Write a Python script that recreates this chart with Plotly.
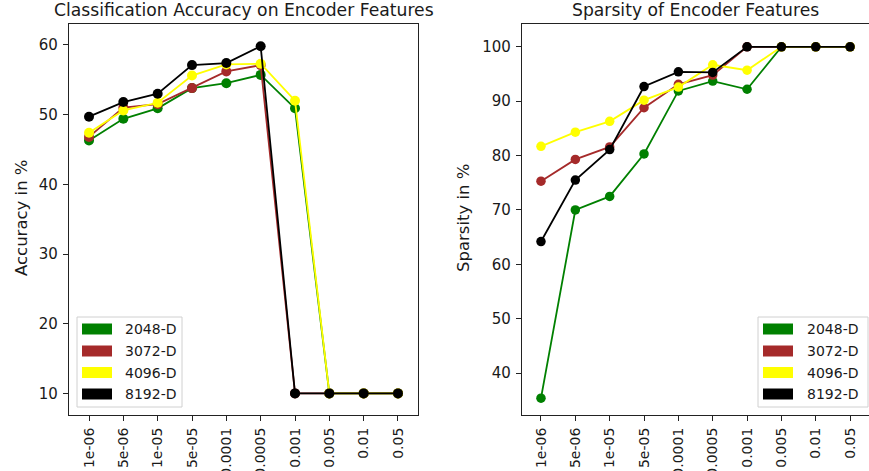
import plotly.graph_objects as go

W, H = 869, 471

# ---------------- data ----------------
x_labels = ["1e-06", "5e-06", "1e-05", "5e-05", "0.0001", "0.0005",
            "0.001", "0.005", "0.01", "0.05"]
series_names = ["2048-D", "3072-D", "4096-D", "8192-D"]
series_colors = ["#008000", "#a52a2a", "#ffff00", "#000000"]

acc_2048 = [46.3, 49.4, 50.9, 53.8, 54.5, 55.7, 50.9, 10, 10, 10]
acc_3072 = [46.8, 51.0, 51.5, 53.8, 56.2, 57.1, 10, 10, 10, 10]
acc_4096 = [47.4, 50.6, 51.7, 55.6, 57.2, 57.3, 52.0, 10, 10, 10]
acc_8192 = [49.7, 51.8, 53.0, 57.1, 57.4, 59.8, 10, 10, 10, 10]

sp_2048 = [35.4, 70.0, 72.5, 80.3, 91.9, 93.7, 92.2, 100, 100, 100]
sp_3072 = [75.3, 79.3, 81.6, 88.8, 93.1, 94.8, 100, 100, 100, 100]
sp_4096 = [81.7, 84.3, 86.3, 90.2, 92.6, 96.7, 95.7, 100, 100, 100]
sp_8192 = [64.2, 75.5, 81.1, 92.7, 95.4, 95.3, 100, 100, 100, 100]

acc_ticks = [10, 20, 30, 40, 50, 60]
sp_ticks = [40, 50, 60, 70, 80, 90, 100]

titles = ["Classification Accuracy on Encoder Features", "Sparsity of Encoder Features"]
y_titles = ["Accuracy in %", "Sparsity in %"]

acc_series = [acc_2048, acc_3072, acc_4096, acc_8192]
sp_series = [sp_2048, sp_3072, sp_4096, sp_8192]

FONT = "DejaVu Sans"
TXT = "#1a1a1a"


def px(x):
    return x / W


def py(y):
    return 1 - y / H


fig = go.Figure()

for vals, name, col in zip(acc_series, series_names, series_colors):
    fig.add_trace(go.Scatter(x=x_labels, y=vals, mode="lines+markers", name=name,
                             line=dict(color=col, width=1.8),
                             marker=dict(color=col, size=10),
                             xaxis="x", yaxis="y", showlegend=False))
for vals, name, col in zip(sp_series, series_names, series_colors):
    fig.add_trace(go.Scatter(x=x_labels, y=vals, mode="lines+markers", name=name,
                             line=dict(color=col, width=1.8),
                             marker=dict(color=col, size=9.5),
                             xaxis="x2", yaxis="y2", showlegend=False))

ax_common = dict(showline=True, linecolor="#222", linewidth=1.2, mirror=True,
                 ticks="outside", ticklen=5, tickcolor="#222", showgrid=False,
                 zeroline=False, automargin=False)
xfont = dict(family=FONT, size=14, color=TXT)
yfont = dict(family=FONT, size=15, color=TXT)

fig.update_layout(
    width=W, height=H,
    margin=dict(l=0, r=0, t=0, b=0, autoexpand=False),
    paper_bgcolor="white", plot_bgcolor="white",
    xaxis=dict(domain=[px(69), px(418)], type="category", range=[-0.583, 9.583],
               tickangle=-90, anchor="y", ticklabelstandoff=1, tickfont=xfont, **ax_common),
    yaxis=dict(domain=[py(415), py(24)], range=[6.9, 63.0], tickvals=acc_ticks,
               anchor="x", ticklabelstandoff=2, tickfont=yfont, **ax_common),
    xaxis2=dict(domain=[px(522), 1.0], type="category", range=[-0.553, 9.55],
                tickangle=-90, anchor="y2", ticklabelstandoff=1, tickfont=xfont, **ax_common),
    yaxis2=dict(domain=[py(415), py(24)], range=[32.3, 104.2], tickvals=sp_ticks,
                anchor="x2", ticklabelstandoff=2, tickfont=yfont, **ax_common),
)

shapes = []
annotations = []

# titles
for t, cx in zip(titles, [244, 695]):
    annotations.append(dict(text=t, x=px(cx), y=py(10.5), xref="paper", yref="paper",
                            showarrow=False, xanchor="center", yanchor="middle",
                            font=dict(family=FONT, size=17.2, color=TXT)))
# y-axis titles
for t, cx in zip(y_titles, [21, 463]):
    annotations.append(dict(text=t, x=px(cx), y=py(218), xref="paper", yref="paper",
                            showarrow=False, textangle=-90, xanchor="center",
                            yanchor="middle", font=dict(family=FONT, size=16.5, color=TXT)))

# legends (drawn as patches + labels, matplotlib style)
rows = [329, 351, 372.5, 394]
for (bx0, bx1, p0, p1, tx) in [(77, 182, 82, 112, 123), (758, 868, 763, 793, 805)]:
    shapes.append(dict(type="rect", xref="paper", yref="paper",
                       x0=px(bx0), x1=px(bx1), y0=py(407), y1=py(317),
                       line=dict(color="#d0d0d0", width=1), fillcolor="rgba(255,255,255,0.85)",
                       layer="above"))
    for ry, name, col in zip(rows, series_names, series_colors):
        shapes.append(dict(type="rect", xref="paper", yref="paper",
                           x0=px(p0), x1=px(p1), y0=py(ry + 5.5), y1=py(ry - 5.5),
                           line=dict(width=0), fillcolor=col, layer="above"))
        annotations.append(dict(text=name, x=px(tx), y=py(ry), xref="paper", yref="paper",
                                showarrow=False, xanchor="left", yanchor="middle",
                                font=dict(family=FONT, size=14, color=TXT)))

fig.update_layout(shapes=shapes, annotations=annotations)

fig.write_html("out.html", config={"displayModeBar": False},
               post_script="document.body.style.margin='0';document.body.style.overflow='hidden';")
